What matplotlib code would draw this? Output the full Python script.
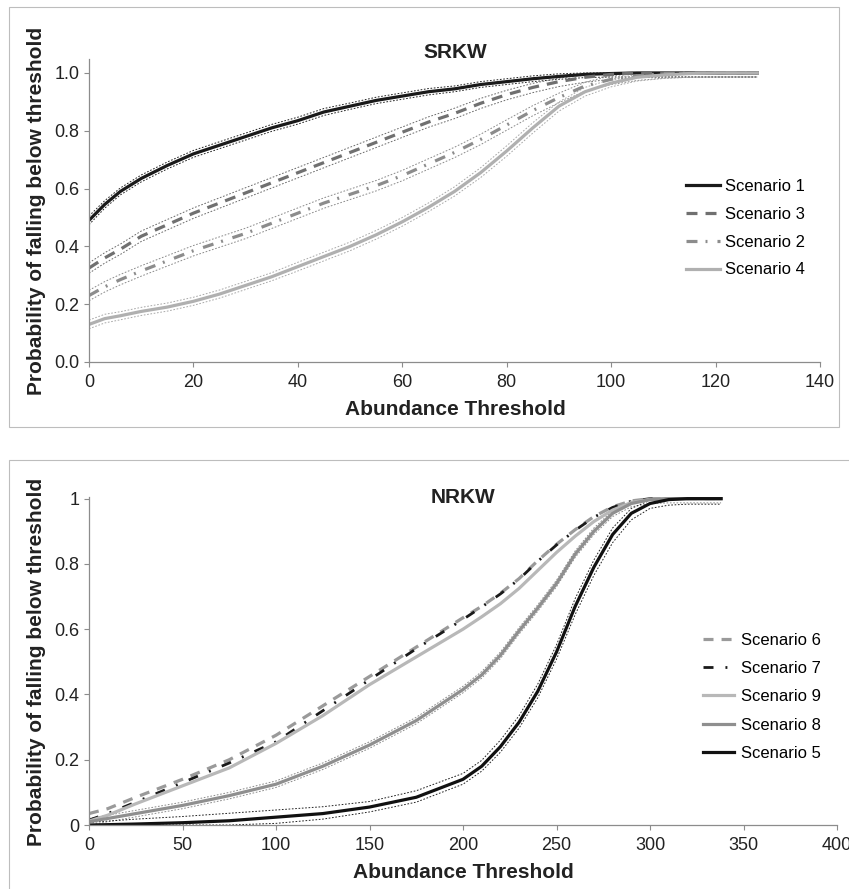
import matplotlib
matplotlib.use("Agg")
import matplotlib.pyplot as plt
from matplotlib.patches import Rectangle

plt.rcParams['font.family'] = ['Liberation Sans', 'DejaVu Sans']
plt.rcParams['lines.scale_dashes'] = False

# --- SRKW (top panel) ---
top_x = [0, 3, 6, 10, 15, 20, 25, 30, 35, 40, 45, 50, 55, 60, 65, 70, 75, 80, 85, 90, 95, 100, 105, 110, 115, 120, 128]

sc1 = [0.49, 0.545, 0.59, 0.635, 0.68, 0.72, 0.75, 0.78, 0.81, 0.835, 0.865, 0.885, 0.905, 0.92, 0.935, 0.945, 0.96, 0.97, 0.98, 0.988, 0.995, 0.998, 1.0, 1.0, 1.0, 1.0, 1.0]
sc1_lo = [0.475, 0.532, 0.578, 0.623, 0.668, 0.708, 0.738, 0.768, 0.798, 0.823, 0.853, 0.874, 0.894, 0.909, 0.924, 0.935, 0.95, 0.96, 0.97, 0.978, 0.984, 0.986, 0.986, 0.986, 0.986, 0.986, 0.986]
sc1_hi = [0.505, 0.558, 0.602, 0.647, 0.692, 0.732, 0.762, 0.792, 0.822, 0.847, 0.877, 0.896, 0.916, 0.931, 0.946, 0.955, 0.97, 0.98, 0.99, 0.997, 1.0, 1.0, 1.0, 1.0, 1.0, 1.0, 1.0]

sc3 = [0.325, 0.36, 0.39, 0.435, 0.475, 0.515, 0.55, 0.585, 0.62, 0.655, 0.69, 0.725, 0.76, 0.795, 0.83, 0.86, 0.895, 0.925, 0.95, 0.97, 0.985, 0.995, 1.0, 1.0, 1.0, 1.0, 1.0]
sc3_lo = [0.307, 0.342, 0.372, 0.417, 0.457, 0.497, 0.532, 0.567, 0.602, 0.637, 0.672, 0.707, 0.742, 0.777, 0.812, 0.842, 0.877, 0.907, 0.932, 0.953, 0.968, 0.978, 0.984, 0.986, 0.986, 0.986, 0.986]
sc3_hi = [0.343, 0.378, 0.408, 0.453, 0.493, 0.533, 0.568, 0.603, 0.638, 0.673, 0.708, 0.743, 0.778, 0.813, 0.848, 0.878, 0.912, 0.94, 0.964, 0.982, 0.994, 1.0, 1.0, 1.0, 1.0, 1.0, 1.0]

sc2 = [0.23, 0.26, 0.285, 0.315, 0.35, 0.385, 0.415, 0.445, 0.48, 0.515, 0.55, 0.58, 0.61, 0.645, 0.685, 0.725, 0.77, 0.82, 0.87, 0.915, 0.955, 0.978, 0.99, 0.998, 1.0, 1.0, 1.0]
sc2_lo = [0.212, 0.242, 0.267, 0.297, 0.332, 0.367, 0.397, 0.427, 0.462, 0.497, 0.532, 0.562, 0.592, 0.627, 0.667, 0.707, 0.752, 0.802, 0.852, 0.897, 0.937, 0.96, 0.974, 0.982, 0.985, 0.986, 0.986]
sc2_hi = [0.248, 0.278, 0.303, 0.333, 0.368, 0.403, 0.433, 0.463, 0.498, 0.533, 0.568, 0.598, 0.628, 0.663, 0.703, 0.743, 0.788, 0.838, 0.887, 0.93, 0.968, 0.99, 0.998, 1.0, 1.0, 1.0, 1.0]

sc4 = [0.13, 0.15, 0.16, 0.175, 0.19, 0.21, 0.235, 0.265, 0.295, 0.33, 0.365, 0.40, 0.44, 0.485, 0.535, 0.59, 0.655, 0.73, 0.81, 0.885, 0.935, 0.965, 0.985, 0.993, 0.998, 1.0, 1.0]
sc4_lo = [0.115, 0.135, 0.146, 0.161, 0.176, 0.196, 0.221, 0.251, 0.281, 0.315, 0.35, 0.385, 0.425, 0.47, 0.52, 0.574, 0.638, 0.712, 0.792, 0.868, 0.92, 0.952, 0.972, 0.981, 0.985, 0.986, 0.986]
sc4_hi = [0.145, 0.165, 0.174, 0.189, 0.204, 0.224, 0.249, 0.279, 0.309, 0.345, 0.38, 0.415, 0.455, 0.5, 0.55, 0.606, 0.672, 0.748, 0.828, 0.9, 0.95, 0.978, 0.995, 1.0, 1.0, 1.0, 1.0]

# --- NRKW (bottom panel) ---
bot_x = [0, 10, 25, 50, 75, 100, 125, 150, 175, 200, 210, 220, 230, 240, 250, 260, 270, 280, 290, 300, 310, 320, 338]

sc5 = [0.0, 0.001, 0.003, 0.007, 0.013, 0.024, 0.035, 0.055, 0.085, 0.14, 0.18, 0.24, 0.315, 0.41, 0.53, 0.67, 0.79, 0.89, 0.955, 0.985, 0.997, 1.0, 1.0]
sc5_lo = [0.0, 0.0, 0.0, 0.0, 0.0, 0.005, 0.018, 0.04, 0.07, 0.125, 0.165, 0.223, 0.297, 0.39, 0.508, 0.645, 0.765, 0.865, 0.935, 0.97, 0.98, 0.983, 0.983]
sc5_hi = [0.008, 0.012, 0.018, 0.026, 0.036, 0.046, 0.056, 0.072, 0.105, 0.158, 0.198, 0.26, 0.335, 0.432, 0.552, 0.694, 0.812, 0.91, 0.97, 0.995, 1.0, 1.0, 1.0]

sc8 = [0.01, 0.02, 0.035, 0.06, 0.09, 0.125, 0.18, 0.245, 0.32, 0.415, 0.46, 0.52, 0.595, 0.665, 0.74, 0.83, 0.9, 0.955, 0.985, 0.997, 1.0, 1.0, 1.0]
sc8_lo = [0.0, 0.01, 0.025, 0.05, 0.08, 0.115, 0.17, 0.235, 0.31, 0.405, 0.45, 0.51, 0.585, 0.655, 0.73, 0.82, 0.89, 0.945, 0.975, 0.985, 0.987, 0.987, 0.987]
sc8_hi = [0.02, 0.03, 0.045, 0.07, 0.1, 0.135, 0.19, 0.255, 0.33, 0.425, 0.47, 0.53, 0.605, 0.675, 0.75, 0.84, 0.91, 0.963, 0.992, 1.0, 1.0, 1.0, 1.0]

sc9 = [0.012, 0.03, 0.065, 0.12, 0.175, 0.25, 0.335, 0.43, 0.515, 0.60, 0.638, 0.678, 0.725, 0.78, 0.835, 0.885, 0.93, 0.965, 0.988, 0.998, 1.0, 1.0, 1.0]
sc6 = [0.035, 0.05, 0.085, 0.14, 0.2, 0.275, 0.365, 0.455, 0.545, 0.635, 0.67, 0.71, 0.755, 0.81, 0.86, 0.905, 0.945, 0.975, 0.993, 1.0, 1.0, 1.0, 1.0]
sc7 = [0.015, 0.035, 0.07, 0.13, 0.19, 0.255, 0.35, 0.445, 0.54, 0.63, 0.668, 0.708, 0.753, 0.808, 0.858, 0.903, 0.943, 0.973, 0.992, 1.0, 1.0, 1.0, 1.0]

W, H = 849, 889
fig = plt.figure(figsize=(W / 100, H / 100), dpi=100)

# light frames round each panel
fig.patches.append(Rectangle((9 / W, 1 - 427 / H), 830 / W, 420 / H, transform=fig.transFigure,
                             fill=False, edgecolor='#bdbdbd', lw=0.8))
fig.patches.append(Rectangle((9 / W, -0.1), 1.0, 1 - 460 / H + 0.1, transform=fig.transFigure,
                             fill=False, edgecolor='#bdbdbd', lw=0.8))

ax1 = fig.add_axes([89 / W, 1 - 362 / H, 731 / W, 303.5 / H])
ax2 = fig.add_axes([89 / W, 1 - 825 / H, 748 / W, 328 / H])

band = dict(lw=0.7, ls=(0, (1.2, 1.2)))

# top bands
ax1.plot(top_x, sc1_lo, color='#222222', **band)
ax1.plot(top_x, sc1_hi, color='#222222', **band)
ax1.plot(top_x, sc3_lo, color='#6a6a6a', **band)
ax1.plot(top_x, sc3_hi, color='#6a6a6a', **band)
ax1.plot(top_x, sc2_lo, color='#8a8a8a', **band)
ax1.plot(top_x, sc2_hi, color='#8a8a8a', **band)
ax1.plot(top_x, sc4_lo, color='#a8a8a8', **band)
ax1.plot(top_x, sc4_hi, color='#a8a8a8', **band)

ax1.plot(top_x, sc1, color='#1a1a1a', lw=2.3, label='Scenario 1')
ax1.plot(top_x, sc3, color='#707070', lw=2.3, ls=(0, (7.9, 5.8)), label='Scenario 3')
ax1.plot(top_x, sc2, color='#8c8c8c', lw=2.3, ls=(0, (7.9, 5.8, 1.4, 7.2)), label='Scenario 2')
ax1.plot(top_x, sc4, color='#b0b0b0', lw=2.3, label='Scenario 4')

# bottom bands
ax2.plot(bot_x, sc8_lo, color='#8a8a8a', **band)
ax2.plot(bot_x, sc8_hi, color='#8a8a8a', **band)
ax2.plot(bot_x, sc5_lo, color='#222222', **band)
ax2.plot(bot_x, sc5_hi, color='#222222', **band)

ax2.plot(bot_x, sc6, color='#9a9a9a', lw=2.3, ls=(0, (7.2, 5.8)), label='Scenario 6')
ax2.plot(bot_x, sc7, color='#1a1a1a', lw=2.0, ls=(0, (7.2, 8.6, 1.4, 8.6)), label='Scenario 7')
ax2.plot(bot_x, sc9, color='#b8b8b8', lw=2.3, label='Scenario 9')
ax2.plot(bot_x, sc8, color='#8f8f8f', lw=2.3, label='Scenario 8')
ax2.plot(bot_x, sc5, color='#111111', lw=2.3, label='Scenario 5')

ax1.set_xlim(0, 140)
ax1.set_ylim(0, 1.05)
ax1.set_xticks(range(0, 141, 20))
ax1.set_yticks([0, 0.2, 0.4, 0.6, 0.8, 1.0])
ax1.set_yticklabels(['0.0', '0.2', '0.4', '0.6', '0.8', '1.0'])

ax2.set_xlim(0, 400)
ax2.set_ylim(0, 1.005)
ax2.set_xticks(range(0, 401, 50))
ax2.set_yticks([0, 0.2, 0.4, 0.6, 0.8, 1.0])
ax2.set_yticklabels(['0', '0.2', '0.4', '0.6', '0.8', '1'])

for ax in (ax1, ax2):
    for s in ('top', 'right'):
        ax.spines[s].set_visible(False)
    for s in ('left', 'bottom'):
        ax.spines[s].set_color('#8c8c8c')
        ax.spines[s].set_linewidth(0.9)
    ax.tick_params(axis='both', colors='#8c8c8c', labelcolor='#222222', labelsize=13,
                   length=3.5, width=0.8, direction='out')
    ax.tick_params(axis='x', pad=5)
    ax.tick_params(axis='y', pad=3.5)

# legends
ax1.legend(loc='upper left', bbox_to_anchor=(686 / W, 1 - 179 / H), bbox_transform=fig.transFigure,
           frameon=False, fontsize=12, handlelength=2.04, handletextpad=0.3, labelspacing=0.77,
           borderpad=0, borderaxespad=0)
ax2.legend(loc='upper left', bbox_to_anchor=(703 / W, 1 - 633 / H), bbox_transform=fig.transFigure,
           frameon=False, fontsize=12, handlelength=1.86, handletextpad=0.42, labelspacing=0.79,
           borderpad=0, borderaxespad=0)

# titles and axis labels
fig.text(455 / W, 1 - 58.5 / H, 'SRKW', ha='center', va='baseline', fontsize=15, fontweight='bold', color='#222222')
fig.text(463 / W, 1 - 502.5 / H, 'NRKW', ha='center', va='baseline', fontsize=15, fontweight='bold', color='#222222')
fig.text(455 / W, 1 - 415 / H, 'Abundance Threshold', ha='center', va='baseline', fontsize=15, fontweight='bold', color='#222222')
fig.text(463 / W, 1 - 878 / H, 'Abundance Threshold', ha='center', va='baseline', fontsize=15, fontweight='bold', color='#222222')
fig.text(41.7 / W, 1 - 211 / H, 'Probability of falling below threshold', rotation=90, rotation_mode='anchor',
         ha='center', va='baseline', fontsize=15, fontweight='bold', color='#222222')
fig.text(41.7 / W, 1 - 661.5 / H, 'Probability of falling below threshold', rotation=90, rotation_mode='anchor',
         ha='center', va='baseline', fontsize=15, fontweight='bold', color='#222222')

fig.savefig('out.png', dpi=100)
